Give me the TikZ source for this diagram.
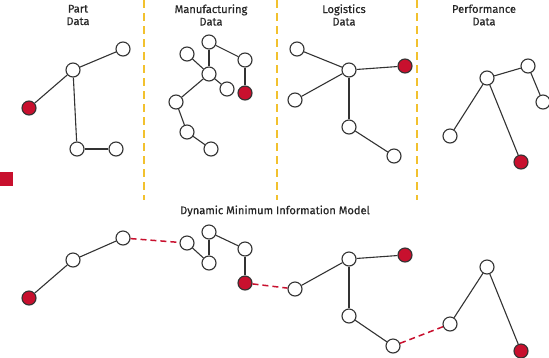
\documentclass[tikz,border=0pt]{standalone}
\usepackage{fontspec}
\setmainfont{Fira Sans}
\usetikzlibrary{shadows}

\definecolor{dotred}{HTML}{C8102E}
\definecolor{lanegold}{HTML}{F2C12E}
\definecolor{edgegray}{HTML}{333333}

\begin{document}
\begin{tikzpicture}[x=1pt,y=-1pt]

  \useasboundingbox (0,0) rectangle (549,357);

  % node styles
  \tikzstyle{Dot}=[
  shape=circle,
  draw=edgegray,
  line width=1.1pt,
  fill=white,
  inner sep=0pt,
  minimum size=14pt,
  drop shadow={opacity=0.12,shadow xshift=0.8pt,shadow yshift=-0.8pt}]

  \tikzstyle{RedDot}=[Dot,fill=dotred]

  \tikzstyle{Label}=[font=\fontsize{11.1}{12.5}\selectfont\addfontfeatures{FakeBold=0.5},
  text=black!85,align=center]

  \tikzstyle{Edge}=[draw=edgegray,line width=1.1pt]
  \tikzstyle{Link}=[draw=dotred,line width=1.5pt,dash pattern=on 6pt off 4pt]
  \tikzstyle{Lane}=[draw=lanegold,line width=2.5pt,dash pattern=on 8pt off 5pt]

  % lanes
  \coordinate (LaneA0) at (144,0);   \coordinate (LaneA1) at (144,200);
  \coordinate (LaneB0) at (277,0);   \coordinate (LaneB1) at (277,200);
  \coordinate (LaneC0) at (417,0);   \coordinate (LaneC1) at (417,200);
  \draw[Lane] (LaneA0) -- (LaneA1);
  \draw[Lane] (LaneB0) -- (LaneB1);
  \draw[Lane] (LaneC0) -- (LaneC1);

  \fill[dotred] (0,172) rectangle (13,186);

  % headings
  \node[Label] (TPart) at ( 78,15) {Part\\Data};
  \node[Label] (TMan)  at (211,15) {Manufacturing\\Data};
  \node[Label] (TLog)  at (344,15) {Logistics\\Data};
  \node[Label] (TPerf) at (484,15) {Performance\\Data};
  \node[Label] (TMod)  at (275,211) {Dynamic Minimum Information Model};

  % part data
  \node[Dot]    (P1) at (123, 49) {};
  \node[Dot]    (P2) at ( 73, 70) {};
  \node[RedDot] (P3) at ( 29,108) {};
  \node[Dot]    (P4) at ( 77,149) {};
  \node[Dot]    (P5) at (116,149) {};

  \draw[Edge] (P2) -- (P1);
  \draw[Edge] (P2) -- (P3);
  \draw[Edge] (P2) -- (P4);
  \draw[Edge] (P4) -- (P5);

  % manufacturing data
  \node[Dot]    (M1) at (209, 42) {};
  \node[Dot]    (M2) at (187, 54) {};
  \node[Dot]    (M3) at (245, 60) {};
  \node[Dot]    (M4) at (209, 74) {};
  \node[Dot]    (M5) at (227, 89) {};
  \node[RedDot] (M6) at (245, 93) {};
  \node[Dot]    (M7) at (176,102) {};
  \node[Dot]    (M8) at (187,132) {};
  \node[Dot]    (M9) at (211,149) {};

  \draw[Edge] (M1) -- (M4);
  \draw[Edge] (M1) -- (M3);
  \draw[Edge] (M3) -- (M6);
  \draw[Edge] (M2) -- (M4);
  \draw[Edge] (M4) -- (M5);
  \draw[Edge] (M4) -- (M7);
  \draw[Edge] (M7) -- (M8);
  \draw[Edge] (M8) -- (M9);

  % logistics data
  \node[Dot]    (L1) at (297, 49) {};
  \node[Dot]    (L2) at (349, 70) {};
  \node[RedDot] (L3) at (405, 66) {};
  \node[Dot]    (L4) at (295,100) {};
  \node[Dot]    (L5) at (349,127) {};
  \node[Dot]    (L6) at (394,156) {};

  \draw[Edge] (L2) -- (L1);
  \draw[Edge] (L2) -- (L3);
  \draw[Edge] (L2) -- (L4);
  \draw[Edge] (L2) -- (L5);
  \draw[Edge] (L5) -- (L6);

  % performance data
  \node[Dot]    (F1) at (487, 78) {};
  \node[Dot]    (F2) at (528, 66) {};
  \node[Dot]    (F3) at (543,102) {};
  \node[Dot]    (F4) at (450,136) {};
  \node[RedDot] (F5) at (521,162) {};

  \draw[Edge] (F1) -- (F2);
  \draw[Edge] (F2) -- (F3);
  \draw[Edge] (F1) -- (F4);
  \draw[Edge] (F1) -- (F5);

  % combined model
  \node[RedDot] (B1)  at ( 29,298) {};
  \node[Dot]    (B2)  at ( 73,260) {};
  \node[Dot]    (B3)  at (123,238) {};
  \node[Dot]    (B4)  at (187,243) {};
  \node[Dot]    (B5)  at (209,232) {};
  \node[Dot]    (B6)  at (209,263) {};
  \node[Dot]    (B7)  at (245,249) {};
  \node[RedDot] (B8)  at (245,283) {};
  \node[Dot]    (B9)  at (295,289) {};
  \node[Dot]    (B10) at (349,259) {};
  \node[RedDot] (B11) at (405,255) {};
  \node[Dot]    (B12) at (349,316) {};
  \node[Dot]    (B13) at (393,346) {};
  \node[Dot]    (B14) at (450,324) {};
  \node[Dot]    (B15) at (487,267) {};
  \node[RedDot] (B16) at (521,351) {};

  \draw[Edge] (B1) -- (B2);
  \draw[Edge] (B2) -- (B3);
  \draw[Link] (B3) -- (B4);
  \draw[Edge] (B4) -- (B6);
  \draw[Edge] (B5) -- (B6);
  \draw[Edge] (B5) -- (B7);
  \draw[Edge] (B7) -- (B8);
  \draw[Link] (B8) -- (B9);
  \draw[Edge] (B9) -- (B10);
  \draw[Edge] (B10) -- (B11);
  \draw[Edge] (B10) -- (B12);
  \draw[Edge] (B12) -- (B13);
  \draw[Link] (B13) -- (B14);
  \draw[Edge] (B14) -- (B15);
  \draw[Edge] (B15) -- (B16);

\end{tikzpicture}
\end{document}
